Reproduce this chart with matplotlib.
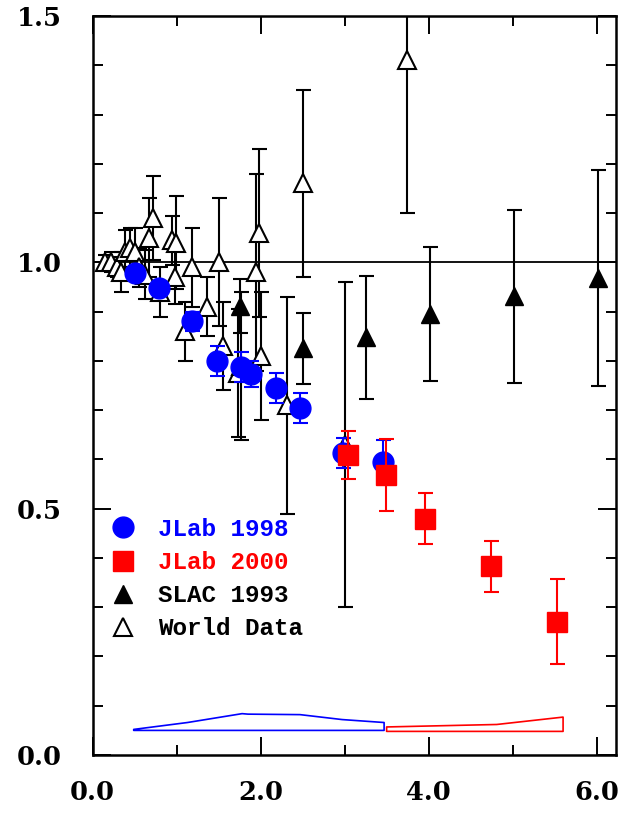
import numpy as np
import matplotlib
matplotlib.use("Agg")
import matplotlib.pyplot as plt
from matplotlib.lines import Line2D

# JLab 1998 (Hall A recoil polarization)
jl98_x = [0.51, 0.79, 1.18, 1.48, 1.77, 1.89, 2.18, 2.47, 2.98, 3.46]
jl98_y = [0.978, 0.947, 0.88, 0.80, 0.787, 0.773, 0.745, 0.704, 0.613, 0.595]
jl98_err = [0.015, 0.015, 0.02, 0.03, 0.03, 0.027, 0.03, 0.03, 0.03, 0.045]

# JLab 2000
jl00_x = [3.04, 3.49, 3.96, 4.74, 5.53]
jl00_y = [0.609, 0.569, 0.48, 0.383, 0.271]
jl00_err = [0.048, 0.073, 0.052, 0.052, 0.086]

# SLAC 1993
slac_x = [1.76, 2.51, 3.26, 4.02, 5.02, 6.02]
slac_y = [0.911, 0.826, 0.848, 0.895, 0.931, 0.968]
slac_err = [0.055, 0.072, 0.125, 0.136, 0.175, 0.22]

# World data
wd_x = [0.15, 0.22, 0.29, 0.34, 0.39, 0.45, 0.50, 0.55, 0.63, 0.67, 0.72, 0.80,
        0.95, 0.99, 0.98, 1.10, 1.18, 1.36, 1.50, 1.55, 1.73, 1.77, 1.95, 1.98,
        2.00, 2.31, 2.51, 3.00, 3.74]
wd_y = [1.00, 1.00, 0.99, 0.98, 1.02, 1.03, 1.02, 0.99, 0.975, 1.05, 1.09, 0.94,
        1.045, 1.04, 0.97, 0.86, 0.99, 0.91, 1.00, 0.83, 0.775, 0.79, 0.98, 1.06,
        0.81, 0.71, 1.16, 0.63, 1.41]
wd_err = [0.015, 0.02, 0.02, 0.04, 0.045, 0.04, 0.05, 0.04, 0.05, 0.08, 0.085, 0.05,
          0.05, 0.095, 0.055, 0.06, 0.08, 0.06, 0.13, 0.09, 0.13, 0.15, 0.20, 0.17,
          0.13, 0.22, 0.19, 0.33, 0.31]

# systematic error bands
sys98_x = [0.49, 1.13, 1.78, 1.85, 2.47, 2.97, 3.47]
sys98_top = [0.052, 0.066, 0.084, 0.083, 0.082, 0.072, 0.066]
sys98_base = 0.05
sys00_x = [3.50, 4.81, 5.60]
sys00_top = [0.057, 0.062, 0.077]
sys00_base = 0.048

labels = ['JLab 1998', 'JLab 2000', 'SLAC 1993', 'World Data']
colors = ['blue', 'red', 'black', 'black']

fig = plt.figure(figsize=(6.18, 8.19), dpi=100)
ax = fig.add_axes([0.1497, 0.0781, 0.8471, 0.9024])

ebkw = dict(linestyle='none', elinewidth=1.5, capthick=1.5, capsize=5.4)

ax.axhline(1.0, color='black', lw=1.3, zorder=1)

ax.errorbar(wd_x, wd_y, yerr=wd_err, marker='^', ms=13.5, mfc='white', mec='black',
            mew=1.5, ecolor='black', zorder=2, **ebkw)
ax.errorbar(slac_x, slac_y, yerr=slac_err, marker='^', ms=13.5, mfc='black', mec='black',
            ecolor='black', zorder=3, **ebkw)
ax.errorbar(jl98_x, jl98_y, yerr=jl98_err, marker='o', ms=15, mfc='blue', mec='blue',
            ecolor='blue', zorder=4, **ebkw)
ax.errorbar(jl00_x, jl00_y, yerr=jl00_err, marker='s', ms=15, mfc='red', mec='red',
            ecolor='red', zorder=5, **ebkw)

ax.fill_between(sys98_x, sys98_base, sys98_top, facecolor='none', edgecolor='blue', lw=1.2)
ax.fill_between(sys00_x, sys00_base, sys00_top, facecolor='none', edgecolor='red', lw=1.2)

ax.set_xlim(0, 6.23)
ax.set_ylim(0, 1.5)
ax.set_xticks([0, 2, 4, 6])
ax.set_xticks([1, 3, 5], minor=True)
ax.set_yticks([0, 0.5, 1.0, 1.5])
ax.set_yticks(np.arange(0.1, 1.5, 0.1), minor=True)
ax.set_xticklabels(['0.0', '2.0', '4.0', '6.0'])
ax.set_yticklabels(['0.0', '0.5', '1.0', '1.5'])

ax.tick_params(which='both', direction='in', top=True, right=True, width=1.4)
ax.tick_params(which='major', length=13)
ax.tick_params(which='minor', length=7)
ax.tick_params(axis='y', which='major', pad=22)
ax.tick_params(axis='x', which='major', pad=18)
for lab in ax.get_xticklabels() + ax.get_yticklabels():
    lab.set_fontfamily('DejaVu Serif')
    lab.set_fontweight('bold')
    lab.set_fontsize(18.5)
for sp in ax.spines.values():
    sp.set_linewidth(1.8)

handles = [
    Line2D([], [], ls='none', marker='o', ms=15, mfc='blue', mec='blue'),
    Line2D([], [], ls='none', marker='s', ms=15, mfc='red', mec='red'),
    Line2D([], [], ls='none', marker='^', ms=13.5, mfc='black', mec='black'),
    Line2D([], [], ls='none', marker='^', ms=13.5, mfc='white', mec='black', mew=1.5),
]
leg = ax.legend(handles, labels, loc='center left', bbox_to_anchor=(0.035, 0.238),
                frameon=False, borderpad=0, borderaxespad=0, handlelength=1.0,
                handletextpad=0.95, labelspacing=0.42,
                prop=dict(family='Liberation Mono', weight='bold', size=17.5))
for txt, c in zip(leg.get_texts(), colors):
    txt.set_color(c)

fig.savefig('out.png', dpi=100)
